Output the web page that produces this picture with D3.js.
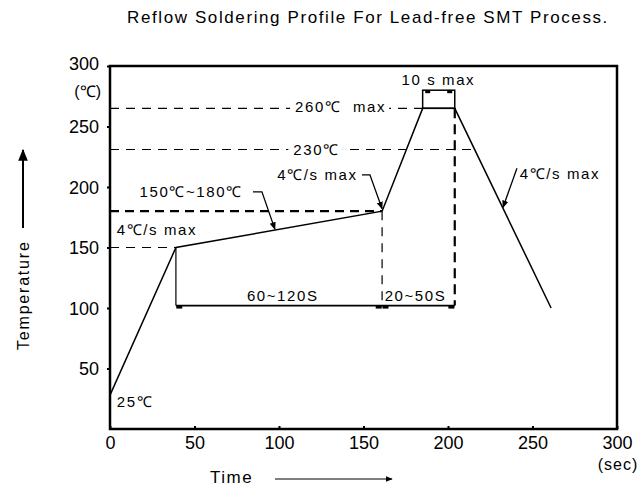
<!DOCTYPE html>
<html>
<head>
<meta charset="utf-8">
<script src="https://cdn.jsdelivr.net/npm/d3@7"></script>
<style>
  body { margin: 0; background: #fff; }
  svg text { font-family: "Liberation Sans", Arial, sans-serif; fill: #000; }
</style>
</head>
<body>
<div id="chart"></div>
<script>
// data ---------------------------------------------------------------------
const profileTime = [0, 39, 161, 185, 204, 261];
const profileTemp = [28, 150, 180, 265, 265, 100];

const peakTime = [185, 204];
const peakTemp = [265, 280];

const xTicks = [0, 50, 100, 150, 200, 250, 300];
const yTicks = [50, 100, 150, 200, 250, 300];

// horizontal guides: temperature, end time, heavy?
const guideTemp = [265, 231, 180, 150];
const guideEnd = [185, 215, 161, 39];
const guideHeavy = [false, false, true, false];

// vertical guides down to the bracket
const vGuideTime = [39, 161, 204];
const vGuideTop = [150, 180, 265];
const bracketTemp = 102;

const labels = [
  { text: "4\u2103/s max", t: 4, temp: 160 },
  { text: "150\u2103~180\u2103", t: 17.5, temp: 192 },
  { text: "4\u2103/s max", t: 99, temp: 206 },
  { text: "4\u2103/s max", t: 242.5, temp: 207 },
  { text: "10 s max", t: 172.5, temp: 284.5 },
  { text: "25\u2103", t: 4, temp: 18 },
  { text: "60~120S", t: 81, temp: 105.5 },
  { text: "20~50S", t: 162.5, temp: 105.5 }
];
const gapLabels = [
  { text: "260\u2103  max", t: 109.5, temp: 262 },
  { text: "230\u2103", t: 108.5, temp: 226.5 }
];

// leaders: points in data units, ending with an arrow
const leaders = [
  [[84.6, 196], [89.9, 196], [97.6, 165]],
  [[149.1, 210], [153.8, 210], [161, 182]],
  [[240.8, 215.5], [232.5, 183]]
];

// chart -------------------------------------------------------------------
const width = 643, height = 491;
const plotLeft = 110, plotRight = 617, plotTop = 66, plotBottom = 429;

const svg = d3.select("#chart").append("svg")
  .attr("width", width)
  .attr("height", height);

const x = d3.scaleLinear().domain([0, 300]).range([plotLeft, plotRight]);
const y = d3.scaleLinear().domain([0, 300]).range([plotBottom, plotTop]);

const defs = svg.append("defs");
defs.append("marker")
  .attr("id", "head")
  .attr("viewBox", "0 0 10 10")
  .attr("refX", 9).attr("refY", 5)
  .attr("markerWidth", 6).attr("markerHeight", 6)
  .attr("orient", "auto")
  .append("path")
  .attr("d", "M0,1 L10,5 L0,9 Z")
  .attr("fill", "#000");

// title
svg.append("text")
  .attr("x", 368).attr("y", 23)
  .attr("text-anchor", "middle")
  .style("font-size", "17px")
  .style("letter-spacing", "1.6px")
  .text("Reflow Soldering Profile For Lead-free SMT Process.");

// axes
const xAxis = svg.append("g")
  .attr("transform", `translate(0,${plotBottom})`)
  .call(d3.axisBottom(x).tickValues(xTicks).tickSizeInner(-3).tickSizeOuter(0).tickPadding(7));
const yAxis = svg.append("g")
  .attr("transform", `translate(${plotLeft},0)`)
  .call(d3.axisLeft(y).tickValues(yTicks).tickSizeInner(3).tickSizeOuter(0).tickPadding(8));

[xAxis, yAxis].forEach(a => {
  a.select(".domain").remove();
  a.selectAll(".tick line").attr("stroke", "#000").attr("stroke-width", 2);
  a.selectAll(".tick text")
    .style("font-family", "'Liberation Sans', Arial, sans-serif")
    .style("font-size", "18px")
    .attr("fill", "#000");
});
yAxis.selectAll(".tick text").attr("dy", "0.35em");
yAxis.selectAll(".tick").filter(d => d === 300).select("text").attr("dy", "0.2em");

// frame
svg.append("rect")
  .attr("x", plotLeft).attr("y", plotTop)
  .attr("width", plotRight - plotLeft).attr("height", plotBottom - plotTop)
  .attr("fill", "none")
  .attr("stroke", "#000")
  .attr("stroke-width", 2.5);

// unit labels
svg.append("text")
  .attr("x", plotLeft - 9).attr("y", 97)
  .attr("text-anchor", "end")
  .style("font-size", "16px")
  .text("(\u2103)");
svg.append("text")
  .attr("x", x(300) + 1).attr("y", 470)
  .attr("text-anchor", "middle")
  .style("font-size", "16px")
  .style("letter-spacing", "1px")
  .text("(sec)");

// axis titles with arrows
svg.append("text")
  .attr("x", 210).attr("y", 483)
  .style("font-size", "17px")
  .style("letter-spacing", "1.5px")
  .text("Time");
svg.append("line")
  .attr("x1", 275).attr("x2", 392)
  .attr("y1", 479).attr("y2", 479)
  .attr("stroke", "#000").attr("stroke-width", 1.2)
  .attr("marker-end", "url(#head)");

svg.append("text")
  .attr("transform", "translate(29,350) rotate(-90)")
  .style("font-size", "16px")
  .style("letter-spacing", "1.8px")
  .text("Temperature");
svg.append("line")
  .attr("x1", 23).attr("x2", 23)
  .attr("y1", 228).attr("y2", 150)
  .attr("stroke", "#000").attr("stroke-width", 2)
  .attr("marker-end", "url(#head)");

// horizontal guides
svg.append("g").selectAll("line")
  .data(guideTemp)
  .join("line")
  .attr("x1", x(0))
  .attr("x2", (d, i) => x(guideEnd[i]))
  .attr("y1", d => y(d))
  .attr("y2", d => y(d))
  .attr("stroke", "#000")
  .attr("stroke-width", (d, i) => guideHeavy[i] ? 2.2 : 1.2)
  .attr("stroke-dasharray", (d, i) => guideHeavy[i] ? "9,6" : "9,7");

// vertical guides
svg.append("g").selectAll("line")
  .data(vGuideTime)
  .join("line")
  .attr("x1", d => x(d)).attr("x2", d => x(d))
  .attr("y1", (d, i) => y(vGuideTop[i]))
  .attr("y2", y(bracketTemp))
  .attr("stroke", "#000")
  .attr("stroke-width", (d, i) => i === 2 ? 2.2 : 1.2)
  .attr("stroke-dasharray", (d, i) => i === 0 ? null : (i === 2 ? "10,6" : "9,7"));

// bracket
svg.append("line")
  .attr("x1", x(vGuideTime[0])).attr("x2", x(vGuideTime[2]))
  .attr("y1", y(bracketTemp)).attr("y2", y(bracketTemp))
  .attr("stroke", "#000").attr("stroke-width", 1.8);
svg.append("g").selectAll("rect")
  .data([vGuideTime[0] + 2, vGuideTime[1] - 2, vGuideTime[1] + 2, vGuideTime[2] - 2])
  .join("rect")
  .attr("x", d => x(d) - 3).attr("y", y(bracketTemp))
  .attr("width", 6).attr("height", 3)
  .attr("fill", "#000");

// gap labels over guides
gapLabels.forEach(l => {
  const t = svg.append("text")
    .attr("x", x(l.t)).attr("y", y(l.temp))
    .style("font-size", "15px")
    .style("letter-spacing", "1.6px")
    .style("white-space", "pre")
    .text(l.text);
  const b = t.node().getBBox();
  svg.insert("rect", () => t.node())
    .attr("x", b.x - 5).attr("y", b.y)
    .attr("width", b.width + 8).attr("height", b.height)
    .attr("fill", "#fff");
});

// peak box
svg.append("rect")
  .attr("x", x(peakTime[0])).attr("y", y(peakTemp[1]))
  .attr("width", x(peakTime[1]) - x(peakTime[0]))
  .attr("height", y(peakTemp[0]) - y(peakTemp[1]))
  .attr("fill", "none")
  .attr("stroke", "#000").attr("stroke-width", 1.5);
svg.append("g").selectAll("rect")
  .data([peakTime[0] + 3, peakTime[1] - 3])
  .join("rect")
  .attr("x", d => x(d) - 2.5).attr("y", y(peakTemp[1]))
  .attr("width", 5).attr("height", 3)
  .attr("fill", "#000");

// profile
const line = d3.line().x(d => x(d[0])).y(d => y(d[1]));
svg.append("path")
  .datum(profileTime.map((t, i) => [t, profileTemp[i]]))
  .attr("d", line)
  .attr("fill", "none")
  .attr("stroke", "#000")
  .attr("stroke-width", 1.5);

// leaders
svg.append("g").selectAll("path")
  .data(leaders)
  .join("path")
  .attr("d", line)
  .attr("fill", "none")
  .attr("stroke", "#000")
  .attr("stroke-width", 1.3)
  .attr("marker-end", "url(#head)");

// labels
svg.append("g").selectAll("text")
  .data(labels)
  .join("text")
  .attr("x", d => x(d.t))
  .attr("y", d => y(d.temp))
  .style("font-size", "15px")
  .style("letter-spacing", "1.6px")
  .text(d => d.text);
</script>
</body>
</html>
